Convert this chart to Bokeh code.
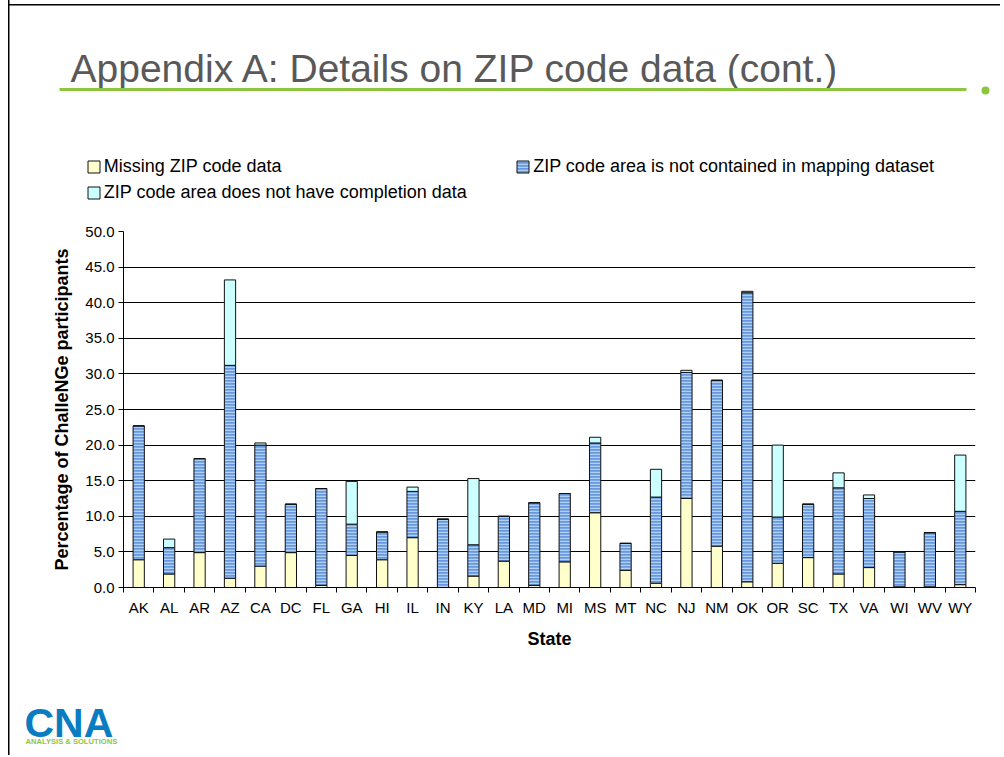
from bokeh.plotting import figure
from bokeh.layouts import column
from bokeh.models import (ColumnDataSource, Range1d, LinearAxis, FixedTicker, NumeralTickFormatter,
                          Legend, LegendItem, Label, BoxAnnotation)
from bokeh.embed import file_html
from bokeh.resources import INLINE

states = ["AK", "AL", "AR", "AZ", "CA", "DC", "FL", "GA", "HI", "IL", "IN", "KY", "LA", "MD",
          "MI", "MS", "MT", "NC", "NJ", "NM", "OK", "OR", "SC", "TX", "VA", "WI", "WV", "WY"]
missing = [3.9, 1.9, 4.9, 1.3, 3.0, 4.9, 0.3, 4.5, 3.9, 7.0, 0.0, 1.6, 3.7, 0.3,
           3.6, 10.5, 2.4, 0.6, 12.5, 5.8, 0.8, 3.4, 4.2, 1.9, 2.8, 0.1, 0.1, 0.4]
not_mapped = [18.8, 3.7, 13.2, 29.9, 17.0, 6.8, 13.6, 4.4, 3.9, 6.5, 9.6, 4.4, 6.3, 11.6,
              9.6, 9.8, 3.8, 12.1, 17.7, 23.3, 40.6, 6.5, 7.5, 12.1, 9.7, 4.9, 7.6, 10.3]
no_completion = [0.0, 1.2, 0.0, 12.0, 0.3, 0.0, 0.0, 6.0, 0.0, 0.6, 0.0, 9.3, 0.0, 0.0,
                 0.0, 0.8, 0.0, 3.9, 0.3, 0.0, 0.2, 10.1, 0.0, 2.1, 0.5, 0.0, 0.0, 7.9]
y_ticks = [0, 5, 10, 15, 20, 25, 30, 35, 40, 45, 50]

series_fields = ["missing", "not_mapped", "no_completion"]
series_labels = ["Missing ZIP code data",
                 "ZIP code area is not contained in mapping dataset",
                 "ZIP code area does not have completion data"]
series_colors = ["#FFFFCC", "#6797DD", "#CCFFFF"]
series_hatch = [" ", "horizontal_line", " "]
title_text = "Appendix A: Details on ZIP code data (cont.)"

FONT = "Liberation Sans"
W = 1000
n = len(states)
centers = [i + 0.5 for i in range(n)]          # category slots on the x scale
boundaries = list(range(n + 1))
BAR_STYLE = dict(line_color="#111111", line_width=1, hatch_color="#B0D0F4",
                 hatch_scale=3, hatch_weight=1.5)

src = ColumnDataSource(dict(x=centers, state=states, missing=missing, not_mapped=not_mapped,
                            no_completion=no_completion))


def deco_fig(h):
    f = figure(width=W, height=h, x_range=Range1d(0, W), y_range=Range1d(h, 0),
               output_backend="svg", toolbar_location=None, title=None,
               x_axis_location=None, y_axis_location=None, min_border=0)
    f.frame_align = False
    f.grid.visible = False
    f.outline_line_color = None
    f.background_fill_color = None
    f.border_fill_color = None
    return f


# ---------------- header: title + legend ----------------
HH = 215
header = deco_fig(HH)
header.add_layout(Label(x=70, y=68, text=title_text, text_font=FONT, text_font_size="39px",
                        text_color="#595959", text_baseline="alphabetic"))
header.add_layout(BoxAnnotation(left=59, right=966, top=87.5, bottom=90.5,
                                fill_color="#8CC63F", fill_alpha=1, line_color=None))
header.add_layout(BoxAnnotation(left=981, right=989, top=86, bottom=94, border_radius=4,
                                fill_color="#8CC63F", fill_alpha=1, line_color=None))

# legend swatches: same series and styling, drawn on an off-screen range so only the keys show
header.extra_y_ranges = {"hidden": Range1d(1000, 2000)}
legend_pos = [(85.8, 38.2), (515.2, 38.2), (85.8, 11.8)]
for fld, lab, col, hat, (vx, vy) in zip(series_fields, series_labels, series_colors,
                                        series_hatch, legend_pos):
    r = header.vbar(x="x", top=fld, width=0.37, source=src, y_range_name="hidden",
                    fill_color=col, hatch_pattern=hat, **BAR_STYLE)
    header.add_layout(Legend(items=[LegendItem(label=lab, renderers=[r])], location=(vx, vy),
                             glyph_width=15, glyph_height=15, label_height=21,
                             label_standoff=3, spacing=0, padding=0, margin=0,
                             label_text_font=FONT, label_text_font_size="18px",
                             label_text_color="black", border_line_color=None,
                             background_fill_alpha=0))

# ---------------- main chart ----------------
p = figure(width=W, height=700 - HH, x_range=Range1d(0, n), y_range=Range1d(0, 50), title=None,
           output_backend="svg", toolbar_location=None, x_axis_location=None)
p.frame_align = False
p.min_border_left = 123
p.min_border_right = 25
p.min_border_top = 231 - HH
p.min_border_bottom = 113
p.outline_line_color = None
p.background_fill_color = "white"
p.border_fill_color = None

rs = p.vbar_stack(series_fields, x="x", width=0.37, source=src,
                  fill_color=series_colors, hatch_pattern=series_hatch, **BAR_STYLE)

ya = p.yaxis[0]
ya.ticker = FixedTicker(ticks=y_ticks)
ya.formatter = NumeralTickFormatter(format="0.0")
ya.major_tick_out = 5
ya.major_tick_in = 0
ya.minor_tick_line_color = None
ya.axis_line_color = "black"
ya.major_tick_line_color = "black"
ya.major_label_text_font = FONT
ya.major_label_text_font_size = "15px"
ya.major_label_text_color = "black"
ya.major_label_standoff = 4
ya.axis_label = "Percentage of ChalleNGe participants"
ya.axis_label_text_font = FONT
ya.axis_label_text_font_size = "18px"
ya.axis_label_text_font_style = "bold"
ya.axis_label_text_color = "black"
ya.axis_label_standoff = 10

p.ygrid.grid_line_color = "black"
p.ygrid.grid_line_width = 1
p.xgrid.visible = False

tick_axis = LinearAxis(ticker=FixedTicker(ticks=boundaries),
                       major_tick_out=5, major_tick_in=0, minor_tick_line_color=None,
                       major_label_text_font_size="0px", major_label_standoff=0,
                       axis_line_color="black", major_tick_line_color="black")
p.add_layout(tick_axis, "below")
cat_axis = LinearAxis(ticker=FixedTicker(ticks=centers),
                      major_label_overrides={c: s for c, s in zip(centers, states)},
                      axis_line_color=None, major_tick_line_color=None, minor_tick_line_color=None,
                      major_tick_out=0, major_tick_in=0, major_label_text_font=FONT,
                      major_label_text_font_size="15px", major_label_text_color="black",
                      major_label_standoff=6, axis_label="State",
                      axis_label_text_font=FONT, axis_label_text_font_size="18px",
                      axis_label_text_font_style="bold", axis_label_text_color="black",
                      axis_label_standoff=10)
p.add_layout(cat_axis, "below")

# ---------------- footer (logo) ----------------
footer = deco_fig(55)
footer.add_layout(Label(x=24, y=22, text="CNA", text_font=FONT, text_font_size="41px",
                        text_font_style="bold", text_color="#0A7CC1", text_baseline="alphabetic"))
footer.add_layout(Label(x=25, y=41, text="ANALYSIS & SOLUTIONS", text_font=FONT,
                        text_font_size="7.6px", text_font_style="bold", text_color="#8CC63F",
                        text_baseline="alphabetic"))

root = column(header, p, footer, spacing=0,
              styles={"background": "linear-gradient(#000, #000) 8px 0px / 1.5px 100% no-repeat, "
                                    "linear-gradient(#000, #000) 8px 4px / 100% 1.5px no-repeat"})

open("out.html", "w").write(file_html(root, INLINE))
